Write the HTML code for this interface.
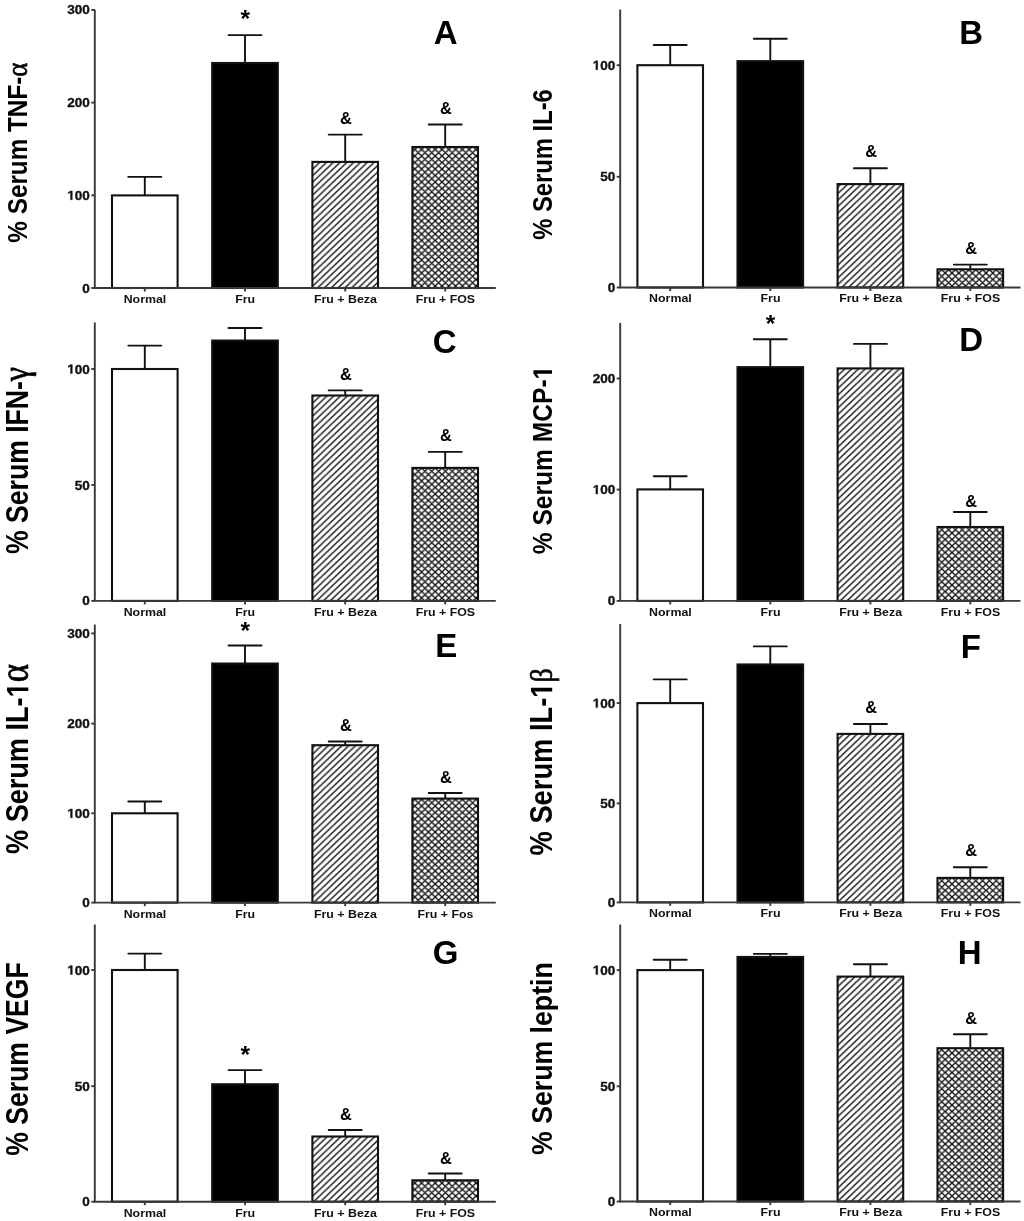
<!DOCTYPE html>
<html><head><meta charset="utf-8"><title>Serum cytokines</title>
<style>
html,body{margin:0;padding:0;background:#fff;}
svg{display:block;will-change:transform;}
text{font-family:"Liberation Sans",sans-serif;font-weight:bold;fill:#111;}
.gl{fill:#111;stroke:#111;stroke-width:0.35;}
.gl2{fill:#000;}
.h1{fill-opacity:0;}
.tk{font-size:12.9px;text-anchor:end;stroke:#111;stroke-width:0.35;}
.xl{font-size:11.8px;text-anchor:middle;}
.lt{font-size:33px;text-anchor:middle;fill:#000;}
.yl{text-anchor:middle;fill:#000;}
.gk{font-family:"Liberation Serif",serif;font-weight:normal;stroke:#000;stroke-width:0.6;}
.st{font-size:24.5px;text-anchor:middle;fill:#000;}
.am{font-size:16.4px;text-anchor:middle;fill:#000;}
.ax{stroke:#383838;stroke-width:1.9;fill:none;}
.eb{stroke:#111;stroke-width:1.9;}
.ec{stroke-linecap:round;}
.bar{stroke:#111;stroke-width:2.1;}
</style></head>
<body>
<svg width="1024" height="1221" viewBox="0 0 1024 1221">
<defs>
<pattern id="hatch" patternUnits="userSpaceOnUse" width="6.8" height="6.5">
<rect width="6.8" height="6.5" fill="#fff"/>
<path d="M-1.7 1.625L1.7 -1.625M0 6.5L6.8 0M5.1 8.125L8.5 4.875" stroke="#1a1a1a" stroke-width="1.5"/>
</pattern>
<pattern id="cross" patternUnits="userSpaceOnUse" width="6.8" height="6.5">
<rect width="6.8" height="6.5" fill="#fff"/>
<path d="M-1.7 1.625L1.7 -1.625M0 6.5L6.8 0M5.1 8.125L8.5 4.875M-1.7 4.875L1.7 8.125M0 0L6.8 6.5M5.1 -1.625L8.5 1.625" stroke="#111" stroke-width="1.4"/>
</pattern>
</defs>
<rect width="1024" height="1221" fill="#fff"/>
<g id="pA"><line x1="144.8" y1="195.4" x2="144.8" y2="176.9" class="eb"/><line x1="128.3" y1="176.9" x2="161.3" y2="176.9" class="eb ec"/><rect x="112" y="195.4" width="65.6" height="92.6" fill="#fff" class="bar"/><line x1="245" y1="63" x2="245" y2="35.1" class="eb"/><line x1="228.5" y1="35.1" x2="261.5" y2="35.1" class="eb ec"/><rect x="212.2" y="63" width="65.6" height="225" fill="#000" class="bar"/><line x1="345.2" y1="161.9" x2="345.2" y2="134.6" class="eb"/><line x1="328.7" y1="134.6" x2="361.7" y2="134.6" class="eb ec"/><rect x="312.4" y="161.9" width="65.6" height="126.1" fill="url(#hatch)" class="bar"/><line x1="445.2" y1="147" x2="445.2" y2="124.5" class="eb"/><line x1="428.7" y1="124.5" x2="461.7" y2="124.5" class="eb ec"/><rect x="412.4" y="147" width="65.6" height="141" fill="url(#cross)" class="bar"/><path d="M94.8 9.7V288H495.8" class="ax"/><line x1="91.3" y1="288" x2="94.8" y2="288" class="ax"/><text transform="translate(89.9,292.5) scale(1.05,1)" class="tk">0</text><line x1="91.3" y1="195.3" x2="94.8" y2="195.3" class="ax"/><g transform="translate(89.9,199.8) scale(1.05,1)"><text class="tk">00</text><path d="M-18.51 0L-18.51 -7.37L-20.64 -6.04L-20.64 -7.43L-18.42 -8.88L-16.74 -8.88L-16.74 0Z" class="gl"/></g><line x1="91.3" y1="102.6" x2="94.8" y2="102.6" class="ax"/><text transform="translate(89.9,107.1) scale(1.05,1)" class="tk">200</text><line x1="91.3" y1="9.9" x2="94.8" y2="9.9" class="ax"/><text transform="translate(89.9,14.4) scale(1.05,1)" class="tk">300</text><line x1="144.8" y1="288" x2="144.8" y2="291.5" class="ax"/><line x1="245" y1="288" x2="245" y2="291.5" class="ax"/><line x1="345.2" y1="288" x2="345.2" y2="291.5" class="ax"/><line x1="445.2" y1="288" x2="445.2" y2="291.5" class="ax"/><text transform="translate(145,302.9) scale(1.05,1)" class="xl">Normal</text><text transform="translate(245.2,302.9) scale(1.05,1)" class="xl">Fru</text><text transform="translate(345.4,302.9) scale(1.05,1)" class="xl">Fru + Beza</text><text transform="translate(445.4,302.9) scale(1.05,1)" class="xl">Fru + FOS</text><text x="245.3" y="27.3" class="st">*</text><text x="346" y="123.8" class="am">&amp;</text><text x="446" y="114" class="am">&amp;</text><text x="445.65" y="43.7" class="lt">A</text><text id="ylA" transform="translate(27.2,152.6) rotate(-90) scale(1,1.12)" style="font-size:24.3px" class="yl">% Serum TNF-<tspan class="gk" style="font-size:27px">α</tspan></text></g>
<g id="pB"><line x1="670.2" y1="65.2" x2="670.2" y2="45" class="eb"/><line x1="653.7" y1="45" x2="686.7" y2="45" class="eb ec"/><rect x="637.4" y="65.2" width="65.6" height="222.3" fill="#fff" class="bar"/><line x1="770.3" y1="61.15" x2="770.3" y2="38.7" class="eb"/><line x1="753.8" y1="38.7" x2="786.8" y2="38.7" class="eb ec"/><rect x="737.5" y="61.15" width="65.6" height="226.35" fill="#000" class="bar"/><line x1="870.4" y1="184.1" x2="870.4" y2="168.3" class="eb"/><line x1="853.9" y1="168.3" x2="886.9" y2="168.3" class="eb ec"/><rect x="837.6" y="184.1" width="65.6" height="103.4" fill="url(#hatch)" class="bar"/><line x1="970.3" y1="269.3" x2="970.3" y2="264.6" class="eb"/><line x1="953.8" y1="264.6" x2="986.8" y2="264.6" class="eb ec"/><rect x="937.5" y="269.3" width="65.6" height="18.2" fill="url(#cross)" class="bar"/><path d="M620.2 9.4V287.5H1020.5" class="ax"/><line x1="616.7" y1="287.5" x2="620.2" y2="287.5" class="ax"/><text transform="translate(615.3,292) scale(1.05,1)" class="tk">0</text><line x1="616.7" y1="176.8" x2="620.2" y2="176.8" class="ax"/><text transform="translate(615.3,181.3) scale(1.05,1)" class="tk">50</text><line x1="616.7" y1="65.2" x2="620.2" y2="65.2" class="ax"/><g transform="translate(615.3,69.7) scale(1.05,1)"><text class="tk">00</text><path d="M-18.51 0L-18.51 -7.37L-20.64 -6.04L-20.64 -7.43L-18.42 -8.88L-16.74 -8.88L-16.74 0Z" class="gl"/></g><line x1="670.2" y1="287.5" x2="670.2" y2="291" class="ax"/><line x1="770.3" y1="287.5" x2="770.3" y2="291" class="ax"/><line x1="870.4" y1="287.5" x2="870.4" y2="291" class="ax"/><line x1="970.3" y1="287.5" x2="970.3" y2="291" class="ax"/><text transform="translate(670.4,302.4) scale(1.05,1)" class="xl">Normal</text><text transform="translate(770.5,302.4) scale(1.05,1)" class="xl">Fru</text><text transform="translate(870.6,302.4) scale(1.05,1)" class="xl">Fru + Beza</text><text transform="translate(970.5,302.4) scale(1.05,1)" class="xl">Fru + FOS</text><text x="871.2" y="157.4" class="am">&amp;</text><text x="971.1" y="254.1" class="am">&amp;</text><text x="971.25" y="43.7" class="lt">B</text><text id="ylB" transform="translate(551.8,164.5) rotate(-90) scale(1,1.13)" style="font-size:23.8px" class="yl">% Serum IL-6</text></g>
<g id="pC"><line x1="144.8" y1="369" x2="144.8" y2="345.6" class="eb"/><line x1="128.3" y1="345.6" x2="161.3" y2="345.6" class="eb ec"/><rect x="112" y="369" width="65.6" height="231.9" fill="#fff" class="bar"/><line x1="245" y1="340.55" x2="245" y2="328" class="eb"/><line x1="228.5" y1="328" x2="261.5" y2="328" class="eb ec"/><rect x="212.2" y="340.55" width="65.6" height="260.35" fill="#000" class="bar"/><line x1="345.2" y1="395.5" x2="345.2" y2="390.4" class="eb"/><line x1="328.7" y1="390.4" x2="361.7" y2="390.4" class="eb ec"/><rect x="312.4" y="395.5" width="65.6" height="205.4" fill="url(#hatch)" class="bar"/><line x1="445.2" y1="467.9" x2="445.2" y2="451.9" class="eb"/><line x1="428.7" y1="451.9" x2="461.7" y2="451.9" class="eb ec"/><rect x="412.4" y="467.9" width="65.6" height="133" fill="url(#cross)" class="bar"/><path d="M94.8 322.4V600.9H495.8" class="ax"/><line x1="91.3" y1="600.9" x2="94.8" y2="600.9" class="ax"/><text transform="translate(89.9,605.4) scale(1.05,1)" class="tk">0</text><line x1="91.3" y1="485" x2="94.8" y2="485" class="ax"/><text transform="translate(89.9,489.5) scale(1.05,1)" class="tk">50</text><line x1="91.3" y1="369" x2="94.8" y2="369" class="ax"/><g transform="translate(89.9,373.5) scale(1.05,1)"><text class="tk">00</text><path d="M-18.51 0L-18.51 -7.37L-20.64 -6.04L-20.64 -7.43L-18.42 -8.88L-16.74 -8.88L-16.74 0Z" class="gl"/></g><line x1="144.8" y1="600.9" x2="144.8" y2="604.4" class="ax"/><line x1="245" y1="600.9" x2="245" y2="604.4" class="ax"/><line x1="345.2" y1="600.9" x2="345.2" y2="604.4" class="ax"/><line x1="445.2" y1="600.9" x2="445.2" y2="604.4" class="ax"/><text transform="translate(145,615.8) scale(1.05,1)" class="xl">Normal</text><text transform="translate(245.2,615.8) scale(1.05,1)" class="xl">Fru</text><text transform="translate(345.4,615.8) scale(1.05,1)" class="xl">Fru + Beza</text><text transform="translate(445.4,615.8) scale(1.05,1)" class="xl">Fru + FOS</text><text x="346" y="379.5" class="am">&amp;</text><text x="446" y="441.1" class="am">&amp;</text><text x="444.65" y="352.5" class="lt">C</text><text id="ylC" transform="translate(28.3,460.5) rotate(-90) scale(1,1.15)" style="font-size:26.6px" class="yl">% Serum IFN-<tspan class="gk" style="font-size:32px">γ</tspan></text></g>
<g id="pD"><line x1="670.2" y1="489.4" x2="670.2" y2="476.3" class="eb"/><line x1="653.7" y1="476.3" x2="686.7" y2="476.3" class="eb ec"/><rect x="637.4" y="489.4" width="65.6" height="111.5" fill="#fff" class="bar"/><line x1="770.3" y1="367.15" x2="770.3" y2="339.3" class="eb"/><line x1="753.8" y1="339.3" x2="786.8" y2="339.3" class="eb ec"/><rect x="737.5" y="367.15" width="65.6" height="233.75" fill="#000" class="bar"/><line x1="870.4" y1="368.4" x2="870.4" y2="343.9" class="eb"/><line x1="853.9" y1="343.9" x2="886.9" y2="343.9" class="eb ec"/><rect x="837.6" y="368.4" width="65.6" height="232.5" fill="url(#hatch)" class="bar"/><line x1="970.3" y1="527" x2="970.3" y2="512" class="eb"/><line x1="953.8" y1="512" x2="986.8" y2="512" class="eb ec"/><rect x="937.5" y="527" width="65.6" height="73.9" fill="url(#cross)" class="bar"/><path d="M620.2 322.9V600.9H1020.5" class="ax"/><line x1="616.7" y1="600.9" x2="620.2" y2="600.9" class="ax"/><text transform="translate(615.3,605.4) scale(1.05,1)" class="tk">0</text><line x1="616.7" y1="489.6" x2="620.2" y2="489.6" class="ax"/><g transform="translate(615.3,494.1) scale(1.05,1)"><text class="tk">00</text><path d="M-18.51 0L-18.51 -7.37L-20.64 -6.04L-20.64 -7.43L-18.42 -8.88L-16.74 -8.88L-16.74 0Z" class="gl"/></g><line x1="616.7" y1="378.5" x2="620.2" y2="378.5" class="ax"/><text transform="translate(615.3,383) scale(1.05,1)" class="tk">200</text><line x1="670.2" y1="600.9" x2="670.2" y2="604.4" class="ax"/><line x1="770.3" y1="600.9" x2="770.3" y2="604.4" class="ax"/><line x1="870.4" y1="600.9" x2="870.4" y2="604.4" class="ax"/><line x1="970.3" y1="600.9" x2="970.3" y2="604.4" class="ax"/><text transform="translate(670.4,615.8) scale(1.05,1)" class="xl">Normal</text><text transform="translate(770.5,615.8) scale(1.05,1)" class="xl">Fru</text><text transform="translate(870.6,615.8) scale(1.05,1)" class="xl">Fru + Beza</text><text transform="translate(970.5,615.8) scale(1.05,1)" class="xl">Fru + FOS</text><text x="770.6" y="332.4" class="st">*</text><text x="971.1" y="507" class="am">&amp;</text><text x="971.05" y="350.8" class="lt">D</text><path transform="translate(552,460) rotate(-90) scale(1,1.1)" d="M86.33 0L86.33 -14.05L82.27 -11.52L82.27 -14.17L86.51 -16.92L89.71 -16.92L89.71 0Z" class="gl2"/><text id="ylD" transform="translate(552,460) rotate(-90) scale(1,1.1)" style="font-size:24.6px" class="yl">% Serum MCP-<tspan class="h1">1</tspan></text></g>
<g id="pE"><line x1="144.8" y1="813.3" x2="144.8" y2="801.5" class="eb"/><line x1="128.3" y1="801.5" x2="161.3" y2="801.5" class="eb ec"/><rect x="112" y="813.3" width="65.6" height="89.3" fill="#fff" class="bar"/><line x1="245" y1="663.55" x2="245" y2="645.5" class="eb"/><line x1="228.5" y1="645.5" x2="261.5" y2="645.5" class="eb ec"/><rect x="212.2" y="663.55" width="65.6" height="239.05" fill="#000" class="bar"/><line x1="345.2" y1="745.2" x2="345.2" y2="741.5" class="eb"/><line x1="328.7" y1="741.5" x2="361.7" y2="741.5" class="eb ec"/><rect x="312.4" y="745.2" width="65.6" height="157.4" fill="url(#hatch)" class="bar"/><line x1="445.2" y1="798.6" x2="445.2" y2="793" class="eb"/><line x1="428.7" y1="793" x2="461.7" y2="793" class="eb ec"/><rect x="412.4" y="798.6" width="65.6" height="104" fill="url(#cross)" class="bar"/><path d="M94.8 624.4V902.6H495.8" class="ax"/><line x1="91.3" y1="902.6" x2="94.8" y2="902.6" class="ax"/><text transform="translate(89.9,907.1) scale(1.05,1)" class="tk">0</text><line x1="91.3" y1="813.3" x2="94.8" y2="813.3" class="ax"/><g transform="translate(89.9,817.8) scale(1.05,1)"><text class="tk">00</text><path d="M-18.51 0L-18.51 -7.37L-20.64 -6.04L-20.64 -7.43L-18.42 -8.88L-16.74 -8.88L-16.74 0Z" class="gl"/></g><line x1="91.3" y1="723.6" x2="94.8" y2="723.6" class="ax"/><text transform="translate(89.9,728.1) scale(1.05,1)" class="tk">200</text><line x1="91.3" y1="633.4" x2="94.8" y2="633.4" class="ax"/><text transform="translate(89.9,637.9) scale(1.05,1)" class="tk">300</text><line x1="144.8" y1="902.6" x2="144.8" y2="906.1" class="ax"/><line x1="245" y1="902.6" x2="245" y2="906.1" class="ax"/><line x1="345.2" y1="902.6" x2="345.2" y2="906.1" class="ax"/><line x1="445.2" y1="902.6" x2="445.2" y2="906.1" class="ax"/><text transform="translate(145,917.5) scale(1.05,1)" class="xl">Normal</text><text transform="translate(245.2,917.5) scale(1.05,1)" class="xl">Fru</text><text transform="translate(345.4,917.5) scale(1.05,1)" class="xl">Fru + Beza</text><text transform="translate(445.4,917.5) scale(1.05,1)" class="xl">Fru + Fos</text><text x="245.3" y="639.1" class="st">*</text><text x="346" y="730.7" class="am">&amp;</text><text x="446" y="782.6" class="am">&amp;</text><text x="446.15" y="657.1" class="lt">E</text><path transform="translate(28.3,759) rotate(-90) scale(1,1.14)" d="M67.9 0L67.9 -15.48L63.43 -12.69L63.43 -15.61L68.1 -18.64L71.62 -18.64L71.62 0Z" class="gl2"/><text id="ylE" transform="translate(28.3,759) rotate(-90) scale(1,1.14)" style="font-size:27.1px" class="yl">% Serum IL-<tspan class="h1">1</tspan><tspan class="gk" style="font-size:35px">α</tspan></text></g>
<g id="pF"><line x1="670.2" y1="703.1" x2="670.2" y2="679.4" class="eb"/><line x1="653.7" y1="679.4" x2="686.7" y2="679.4" class="eb ec"/><rect x="637.4" y="703.1" width="65.6" height="199.3" fill="#fff" class="bar"/><line x1="770.3" y1="664.45" x2="770.3" y2="646.4" class="eb"/><line x1="753.8" y1="646.4" x2="786.8" y2="646.4" class="eb ec"/><rect x="737.5" y="664.45" width="65.6" height="237.95" fill="#000" class="bar"/><line x1="870.4" y1="733.9" x2="870.4" y2="724" class="eb"/><line x1="853.9" y1="724" x2="886.9" y2="724" class="eb ec"/><rect x="837.6" y="733.9" width="65.6" height="168.5" fill="url(#hatch)" class="bar"/><line x1="970.3" y1="877.9" x2="970.3" y2="867.2" class="eb"/><line x1="953.8" y1="867.2" x2="986.8" y2="867.2" class="eb ec"/><rect x="937.5" y="877.9" width="65.6" height="24.5" fill="url(#cross)" class="bar"/><path d="M620.2 624V902.4H1020.5" class="ax"/><line x1="616.7" y1="902.4" x2="620.2" y2="902.4" class="ax"/><text transform="translate(615.3,906.9) scale(1.05,1)" class="tk">0</text><line x1="616.7" y1="803.4" x2="620.2" y2="803.4" class="ax"/><text transform="translate(615.3,807.9) scale(1.05,1)" class="tk">50</text><line x1="616.7" y1="703.1" x2="620.2" y2="703.1" class="ax"/><g transform="translate(615.3,707.6) scale(1.05,1)"><text class="tk">00</text><path d="M-18.51 0L-18.51 -7.37L-20.64 -6.04L-20.64 -7.43L-18.42 -8.88L-16.74 -8.88L-16.74 0Z" class="gl"/></g><line x1="670.2" y1="902.4" x2="670.2" y2="905.9" class="ax"/><line x1="770.3" y1="902.4" x2="770.3" y2="905.9" class="ax"/><line x1="870.4" y1="902.4" x2="870.4" y2="905.9" class="ax"/><line x1="970.3" y1="902.4" x2="970.3" y2="905.9" class="ax"/><text transform="translate(670.4,917.3) scale(1.05,1)" class="xl">Normal</text><text transform="translate(770.5,917.3) scale(1.05,1)" class="xl">Fru</text><text transform="translate(870.6,917.3) scale(1.05,1)" class="xl">Fru + Beza</text><text transform="translate(970.5,917.3) scale(1.05,1)" class="xl">Fru + FOS</text><text x="871.2" y="712.7" class="am">&amp;</text><text x="971.1" y="856.4" class="am">&amp;</text><text x="970.75" y="657.9" class="lt">F</text><path transform="translate(552.2,761.9) rotate(-90) scale(1,1.13)" d="M70.48 0L70.48 -15.6L65.98 -12.78L65.98 -15.73L70.68 -18.78L74.23 -18.78L74.23 0Z" class="gl2"/><text id="ylF" transform="translate(552.2,761.9) rotate(-90) scale(1,1.13)" style="font-size:27.3px" class="yl">% Serum IL-<tspan class="h1">1</tspan><tspan class="gk" style="font-size:28px">β</tspan></text></g>
<g id="pG"><line x1="144.8" y1="970" x2="144.8" y2="953.6" class="eb"/><line x1="128.3" y1="953.6" x2="161.3" y2="953.6" class="eb ec"/><rect x="112" y="970" width="65.6" height="231.7" fill="#fff" class="bar"/><line x1="245" y1="1084.25" x2="245" y2="1070.1" class="eb"/><line x1="228.5" y1="1070.1" x2="261.5" y2="1070.1" class="eb ec"/><rect x="212.2" y="1084.25" width="65.6" height="117.45" fill="#000" class="bar"/><line x1="345.2" y1="1136.5" x2="345.2" y2="1130" class="eb"/><line x1="328.7" y1="1130" x2="361.7" y2="1130" class="eb ec"/><rect x="312.4" y="1136.5" width="65.6" height="65.2" fill="url(#hatch)" class="bar"/><line x1="445.2" y1="1180.3" x2="445.2" y2="1173.5" class="eb"/><line x1="428.7" y1="1173.5" x2="461.7" y2="1173.5" class="eb ec"/><rect x="412.4" y="1180.3" width="65.6" height="21.4" fill="url(#cross)" class="bar"/><path d="M94.8 924.4V1201.7H495.8" class="ax"/><line x1="91.3" y1="1201.7" x2="94.8" y2="1201.7" class="ax"/><text transform="translate(89.9,1206.2) scale(1.05,1)" class="tk">0</text><line x1="91.3" y1="1086.2" x2="94.8" y2="1086.2" class="ax"/><text transform="translate(89.9,1090.7) scale(1.05,1)" class="tk">50</text><line x1="91.3" y1="970" x2="94.8" y2="970" class="ax"/><g transform="translate(89.9,974.5) scale(1.05,1)"><text class="tk">00</text><path d="M-18.51 0L-18.51 -7.37L-20.64 -6.04L-20.64 -7.43L-18.42 -8.88L-16.74 -8.88L-16.74 0Z" class="gl"/></g><line x1="144.8" y1="1201.7" x2="144.8" y2="1205.2" class="ax"/><line x1="245" y1="1201.7" x2="245" y2="1205.2" class="ax"/><line x1="345.2" y1="1201.7" x2="345.2" y2="1205.2" class="ax"/><line x1="445.2" y1="1201.7" x2="445.2" y2="1205.2" class="ax"/><text transform="translate(145,1216.6) scale(1.05,1)" class="xl">Normal</text><text transform="translate(245.2,1216.6) scale(1.05,1)" class="xl">Fru</text><text transform="translate(345.4,1216.6) scale(1.05,1)" class="xl">Fru + Beza</text><text transform="translate(445.4,1216.6) scale(1.05,1)" class="xl">Fru + FOS</text><text x="245.3" y="1063.1" class="st">*</text><text x="346" y="1120.2" class="am">&amp;</text><text x="446" y="1163.7" class="am">&amp;</text><text x="445.5" y="963.9" class="lt">G</text><text id="ylG" transform="translate(28.3,1059) rotate(-90) scale(1,1.18)" style="font-size:26.6px" class="yl">% Serum VEGF</text></g>
<g id="pH"><line x1="670.2" y1="970.1" x2="670.2" y2="959.7" class="eb"/><line x1="653.7" y1="959.7" x2="686.7" y2="959.7" class="eb ec"/><rect x="637.4" y="970.1" width="65.6" height="231.4" fill="#fff" class="bar"/><line x1="770.3" y1="956.95" x2="770.3" y2="953.9" class="eb"/><line x1="753.8" y1="953.9" x2="786.8" y2="953.9" class="eb ec"/><rect x="737.5" y="956.95" width="65.6" height="244.55" fill="#000" class="bar"/><line x1="870.4" y1="976.6" x2="870.4" y2="964.3" class="eb"/><line x1="853.9" y1="964.3" x2="886.9" y2="964.3" class="eb ec"/><rect x="837.6" y="976.6" width="65.6" height="224.9" fill="url(#hatch)" class="bar"/><line x1="970.3" y1="1048.2" x2="970.3" y2="1034.2" class="eb"/><line x1="953.8" y1="1034.2" x2="986.8" y2="1034.2" class="eb ec"/><rect x="937.5" y="1048.2" width="65.6" height="153.3" fill="url(#cross)" class="bar"/><path d="M620.2 924.5V1201.5H1020.5" class="ax"/><line x1="616.7" y1="1201.5" x2="620.2" y2="1201.5" class="ax"/><text transform="translate(615.3,1206) scale(1.05,1)" class="tk">0</text><line x1="616.7" y1="1086.3" x2="620.2" y2="1086.3" class="ax"/><text transform="translate(615.3,1090.8) scale(1.05,1)" class="tk">50</text><line x1="616.7" y1="970.1" x2="620.2" y2="970.1" class="ax"/><g transform="translate(615.3,974.6) scale(1.05,1)"><text class="tk">00</text><path d="M-18.51 0L-18.51 -7.37L-20.64 -6.04L-20.64 -7.43L-18.42 -8.88L-16.74 -8.88L-16.74 0Z" class="gl"/></g><line x1="670.2" y1="1201.5" x2="670.2" y2="1205" class="ax"/><line x1="770.3" y1="1201.5" x2="770.3" y2="1205" class="ax"/><line x1="870.4" y1="1201.5" x2="870.4" y2="1205" class="ax"/><line x1="970.3" y1="1201.5" x2="970.3" y2="1205" class="ax"/><text transform="translate(670.4,1216.4) scale(1.05,1)" class="xl">Normal</text><text transform="translate(770.5,1216.4) scale(1.05,1)" class="xl">Fru</text><text transform="translate(870.6,1216.4) scale(1.05,1)" class="xl">Fru + Beza</text><text transform="translate(970.5,1216.4) scale(1.05,1)" class="xl">Fru + FOS</text><text x="971.1" y="1023.7" class="am">&amp;</text><text x="969.6" y="964.3" class="lt">H</text><text id="ylH" transform="translate(552.2,1058.6) rotate(-90) scale(1,1.13)" style="font-size:26.7px" class="yl">% Serum leptin</text></g>
</svg>
</body></html>
